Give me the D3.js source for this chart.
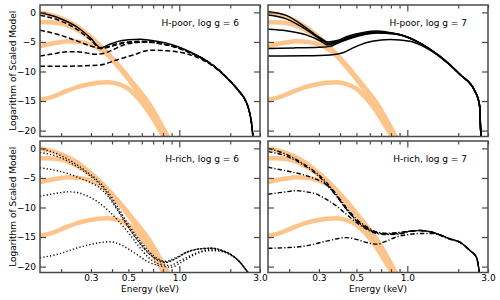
<!DOCTYPE html>
<html>
<head>
<meta charset="utf-8">
<script src="https://cdn.jsdelivr.net/npm/d3@7/dist/d3.min.js"></script>
<style>
  body { margin: 0; background: #fff; }
  text { font-family: 'DejaVu Sans', sans-serif; }
</style>
</head>
<body>
<div id="chart"></div>
<script>
// tick values
var energy_labels = [0.3, 0.5, 1.0, 3.0];
var energy_minor = [0.2, 0.3, 0.4, 0.5, 0.6, 0.7, 0.8, 0.9, 2.0, 3.0];
var energy_major = [1.0];
var log_ticks = [0, -5, -10, -15, -20];

var panel_titles = ['H-poor, log g = 6', 'H-poor, log g = 7', 'H-rich, log g = 6', 'H-rich, log g = 7'];

// orange reference models, [energy keV, log model] (same in every panel)
var ref_1 = [[0.15,0],[0.167,-0.3],[0.192,-0.8],[0.22,-1.5],[0.252,-2.5],[0.288,-3.8],[0.331,-5.3],[0.379,-7.0],[0.434,-8.85],[0.498,-10.9],[0.57,-13.0],[0.654,-15.2],[0.749,-18.0],[0.865,-21.3]];
var ref_2 = [[0.15,-1.65],[0.167,-1.65],[0.192,-1.8],[0.22,-2.25],[0.252,-3.05],[0.288,-4.1],[0.331,-5.45],[0.379,-7.15],[0.434,-9.0],[0.498,-11.1],[0.57,-13.3],[0.654,-15.7],[0.749,-18.5],[0.855,-21.3]];
var ref_3 = [[0.15,-5.75],[0.167,-5.4],[0.192,-5.1],[0.22,-4.9],[0.252,-4.95],[0.288,-5.3],[0.331,-6.0],[0.379,-7.25],[0.434,-9.1],[0.498,-11.2],[0.57,-13.5],[0.654,-15.9],[0.749,-18.7],[0.85,-21.3]];
var ref_4 = [[0.15,-14.8],[0.167,-14.5],[0.192,-13.9],[0.22,-13.2],[0.252,-12.6],[0.288,-12.2],[0.331,-11.9],[0.379,-11.8],[0.434,-12.1],[0.498,-12.9],[0.57,-14.5],[0.654,-16.7],[0.749,-19.4],[0.82,-21.3]];

// H-poor, log g = 6 (first one solid)
var hpoor6_tail = [[1.45,-8.2],[1.75,-10.0],[2.0,-11.65],[2.25,-13.3],[2.45,-14.8],[2.58,-16.5],[2.68,-19.0],[2.73,-21.3]];
var hpoor6_a = [[0.15,0],[0.192,-0.9],[0.252,-2.6],[0.3,-4.4],[0.343,-6.0],[0.38,-5.5],[0.43,-4.95],[0.5,-4.65],[0.586,-4.55],[0.67,-4.7],[0.844,-5.2],[1.0,-5.9],[1.16,-6.7]];
var hpoor6_b = [[0.15,-0.5],[0.192,-1.3],[0.252,-3.0],[0.3,-4.7],[0.343,-6.1],[0.38,-5.8],[0.43,-5.3],[0.5,-5.0],[0.6,-4.9],[0.7,-5.05],[0.85,-5.5],[1.0,-6.05],[1.16,-6.8]];
var hpoor6_c = [[0.15,-3.0],[0.192,-3.75],[0.252,-4.9],[0.3,-5.7],[0.343,-6.1],[0.38,-5.9],[0.43,-5.45],[0.5,-5.1],[0.6,-5.0],[0.7,-5.1],[0.85,-5.55],[1.0,-6.1],[1.16,-6.85]];
var hpoor6_d = [[0.15,-7.4],[0.18,-7.0],[0.21,-6.7],[0.24,-6.65],[0.28,-6.85],[0.32,-7.1],[0.36,-6.9],[0.4,-6.4],[0.46,-5.6],[0.55,-5.1],[0.65,-5.0],[0.8,-5.35],[1.0,-6.05],[1.16,-6.85]];
var hpoor6_e = [[0.15,-9.1],[0.216,-9.1],[0.3,-9.0],[0.34,-8.9],[0.427,-8.05],[0.535,-7.2],[0.672,-6.4],[0.844,-6.5],[1.107,-7.0],[1.3,-7.7],[1.45,-8.4],[1.75,-10.1]];

// H-poor, log g = 7
var hpoor7_tail = [[0.906,-3.78],[1.19,-5.2],[1.56,-7.45],[2.05,-10.5],[2.52,-13.4],[2.62,-14.6],[2.68,-16.0],[2.71,-19.5],[2.73,-21.3]];
var hpoor7_a = [[0.15,0.1],[0.192,-0.5],[0.252,-2.6],[0.305,-4.3],[0.34,-5.0],[0.38,-4.8],[0.45,-4.0],[0.55,-3.4],[0.66,-3.15],[0.75,-3.3]];
var hpoor7_b = [[0.15,-0.45],[0.192,-1.1],[0.252,-2.9],[0.305,-4.5],[0.34,-5.25],[0.38,-5.0],[0.45,-4.2],[0.55,-3.55],[0.66,-3.3],[0.75,-3.4]];
var hpoor7_c = [[0.15,-2.85],[0.192,-3.1],[0.252,-3.8],[0.305,-4.8],[0.34,-5.5],[0.38,-5.1],[0.45,-4.35],[0.55,-3.7],[0.66,-3.4],[0.75,-3.5]];
var hpoor7_d = [[0.15,-6.1],[0.22,-6.0],[0.3,-5.9],[0.35,-5.75],[0.38,-5.3],[0.45,-4.5],[0.55,-3.8],[0.66,-3.5],[0.75,-3.55]];
var hpoor7_e = [[0.15,-7.4],[0.25,-7.35],[0.35,-7.2],[0.42,-6.8],[0.47,-6.1],[0.525,-5.5],[0.62,-4.9],[0.79,-4.57],[1.04,-4.9],[1.19,-5.5],[1.4,-6.6],[1.7,-8.4]];

// H-rich, log g = 6
var hrich6_tail = [[1.1,-17.6],[1.32,-17.0],[1.55,-16.9],[1.8,-17.3],[2.0,-17.9],[2.29,-19.3],[2.5,-20.7],[2.6,-21.3]];
var hrich6_a = [[0.15,0],[0.192,-1.0],[0.252,-2.9],[0.288,-4.1],[0.331,-5.5],[0.379,-7.4],[0.434,-10.0],[0.498,-12.8],[0.57,-15.2],[0.654,-17.3],[0.75,-18.7],[0.83,-19.1],[0.95,-18.5]];
var hrich6_b = [[0.15,-0.7],[0.192,-1.4],[0.252,-3.2],[0.288,-4.35],[0.331,-5.8],[0.379,-7.8],[0.434,-10.4],[0.498,-13.2],[0.57,-15.6],[0.654,-17.6],[0.75,-18.9],[0.83,-19.25],[0.95,-18.65]];
var hrich6_c = [[0.15,-3.3],[0.192,-3.8],[0.252,-4.9],[0.288,-5.6],[0.331,-6.5],[0.379,-8.1],[0.434,-10.6],[0.498,-13.3],[0.57,-15.7],[0.654,-17.7],[0.75,-19.0],[0.83,-19.3],[0.95,-18.7]];
var hrich6_d = [[0.15,-8.1],[0.192,-7.55],[0.22,-7.35],[0.252,-7.5],[0.288,-8.1],[0.331,-9.1],[0.379,-10.5],[0.434,-12.2],[0.498,-14.2],[0.57,-16.4],[0.654,-18.4],[0.75,-19.5],[0.88,-19.8],[1.01,-19.0],[1.32,-17.5],[1.52,-17.1],[1.8,-17.4],[2.0,-17.95]];
var hrich6_e = [[0.15,-18.5],[0.192,-17.9],[0.252,-16.8],[0.331,-16.0],[0.39,-15.8],[0.434,-16.1],[0.498,-17.0],[0.57,-18.1],[0.654,-19.2],[0.75,-19.8],[0.9,-20.1],[1.01,-19.4],[1.32,-17.6],[1.52,-17.3],[1.8,-17.5],[2.0,-18.0]];

// H-rich, log g = 7
var hrich7_tail = [[1.04,-14.0],[1.19,-13.9],[1.36,-14.1],[1.79,-15.3],[2.05,-15.9],[2.35,-17.3],[2.56,-18.4],[2.65,-20.4],[2.68,-21.3]];
var hrich7_a = [[0.15,0],[0.192,-1.0],[0.252,-2.9],[0.288,-4.05],[0.331,-5.7],[0.379,-7.7],[0.434,-9.95],[0.498,-11.9],[0.57,-13.2],[0.654,-14.1],[0.75,-14.35],[0.906,-14.2]];
var hrich7_b = [[0.15,-0.55],[0.192,-1.3],[0.252,-3.1],[0.288,-4.3],[0.331,-6.0],[0.379,-8.0],[0.434,-10.2],[0.498,-12.1],[0.57,-13.4],[0.654,-14.2],[0.75,-14.45],[0.906,-14.3]];
var hrich7_c = [[0.15,-3.2],[0.192,-3.8],[0.252,-4.6],[0.288,-5.2],[0.331,-6.1],[0.379,-7.9],[0.434,-10.2],[0.498,-12.2],[0.57,-13.5],[0.654,-14.3],[0.75,-14.5],[0.906,-14.4]];
var hrich7_d = [[0.15,-7.75],[0.192,-7.35],[0.22,-7.15],[0.252,-7.35],[0.288,-7.7],[0.331,-8.6],[0.379,-9.7],[0.434,-11.1],[0.498,-12.5],[0.57,-13.6],[0.654,-14.4],[0.75,-14.6],[0.906,-14.5]];
var hrich7_e = [[0.15,-16.9],[0.192,-16.8],[0.252,-16.5],[0.331,-15.7],[0.434,-15.1],[0.5,-15.4],[0.57,-15.9],[0.66,-16.2],[0.75,-15.7],[0.86,-15.0],[1.0,-14.6],[1.19,-14.4],[1.4,-14.4],[1.79,-15.4]];

function PanelPlotter() {
  this._lefts = [40, 268];
  this._tops = [5, 141];
  this._width = 220;
  this._height = 131.5;
  this._font_size = '9px';
  this._frame_colour = '#4a4a4a';
  this._ref_colour = '#fdc48b';
}

PanelPlotter.prototype._with_tail = function(head, tail) {
  let last = head[head.length - 1][0];
  return head.concat(tail.filter(p => p[0] > last));
}

// models are drawn in order; the one at solid_idx (if any) has no dashes
PanelPlotter.prototype._plot_panel = function(svg, idx, models, dash, line_width, solid_idx) {
  let self = this;
  let col = idx % 2;
  let row = Math.floor(idx / 2);
  let x = d3.scaleLog().domain([0.15, 3]).range([0, this._width]);
  let y = d3.scaleLinear().domain([-21, 1.25]).range([this._height, 0]);

  let g = svg.append('svg:g')
    .attr('transform', 'translate(' + this._lefts[col] + ',' + this._tops[row] + ')');

  svg.append('svg:defs').append('svg:clipPath')
    .attr('id', 'clip' + idx)
    .append('svg:rect')
    .attr('width', this._width)
    .attr('height', this._height);

  let line = d3.line()
    .x(d => x(d[0]))
    .y(d => y(d[1]))
    .curve(d3.curveMonotoneX);

  let plot = g.append('svg:g').attr('clip-path', 'url(#clip' + idx + ')');

  plot.selectAll('path.ref')
    .data([ref_1, ref_2, ref_3, ref_4])
    .join('svg:path')
    .attr('class', 'ref')
    .attr('d', line)
    .attr('fill', 'none')
    .attr('stroke', this._ref_colour)
    .attr('stroke-width', 4.5);

  plot.selectAll('path.model')
    .data(models)
    .join('svg:path')
    .attr('class', 'model')
    .attr('d', line)
    .attr('fill', 'none')
    .attr('stroke', '#000')
    .attr('stroke-width', line_width)
    .attr('stroke-dasharray', function(d, i) { return i === solid_idx ? null : dash; });

  // ticks point inwards on all four sides
  let minus = d => d < 0 ? '\u2212' + Math.abs(d) : String(d);
  let axes = [
    d3.axisBottom(x).tickValues(energy_minor).tickSize(-3.5).tickFormat(''),
    d3.axisBottom(x).tickValues(energy_major).tickSize(-6.5).tickFormat(''),
    d3.axisTop(x).tickValues(energy_minor).tickSize(-3.5).tickFormat(''),
    d3.axisTop(x).tickValues(energy_major).tickSize(-6.5).tickFormat(''),
    d3.axisLeft(y).tickValues(log_ticks).tickSize(-6).tickPadding(4).tickFormat(col === 0 ? minus : ''),
    d3.axisRight(y).tickValues(log_ticks).tickSize(-6).tickFormat('')
  ];
  let shifts = ['0,' + this._height, '0,' + this._height, '0,0', '0,0', '0,0', this._width + ',0'];
  axes.forEach(function(ax, i) {
    let a = g.append('svg:g')
      .attr('transform', 'translate(' + shifts[i] + ')')
      .call(ax);
    a.select('.domain').remove();
    a.selectAll('line').attr('stroke', self._frame_colour).attr('stroke-width', 1.2);
    a.selectAll('text').attr('font-size', self._font_size).attr('fill', '#000')
      .attr('font-family', "'DejaVu Sans', sans-serif");
  });

  if(row === 1) {
    let lab = g.append('svg:g')
      .attr('transform', 'translate(0,' + this._height + ')')
      .call(d3.axisBottom(x).tickValues(energy_labels).tickSize(0).tickPadding(2.5).tickFormat(d3.format('.1f')));
    lab.select('.domain').remove();
    lab.selectAll('text').attr('font-size', this._font_size).attr('fill', '#000')
      .attr('font-family', "'DejaVu Sans', sans-serif");

    g.append('svg:text')
      .attr('x', this._width / 2)
      .attr('y', this._height + 19)
      .attr('text-anchor', 'middle')
      .attr('font-size', this._font_size)
      .text('Energy (keV)');
  }

  if(col === 0) {
    g.append('svg:text')
      .attr('transform', 'translate(' + (15.5 - this._lefts[col]) + ',' + (this._height / 2) + ') rotate(-90)')
      .attr('text-anchor', 'middle')
      .attr('font-size', this._font_size)
      .text('Logarithm of Scaled Model');
  }

  g.append('svg:text')
    .attr('x', this._width - 21)
    .attr('y', 21)
    .attr('text-anchor', 'end')
    .attr('font-size', this._font_size)
    .text(panel_titles[idx]);

  g.append('svg:rect')
    .attr('width', this._width)
    .attr('height', this._height)
    .attr('fill', 'none')
    .attr('stroke', this._frame_colour)
    .attr('stroke-width', 1.5);
}

PanelPlotter.prototype.plot = function(container) {
  let t = this;
  let svg = d3.select(container).append('svg:svg')
    .attr('width', 500)
    .attr('height', 300);

  let hpoor6 = [hpoor6_e, hpoor6_d, hpoor6_c, hpoor6_b, hpoor6_a].map(m => t._with_tail(m, hpoor6_tail));
  let hpoor7 = [hpoor7_a, hpoor7_b, hpoor7_c, hpoor7_d, hpoor7_e].map(m => t._with_tail(m, hpoor7_tail));
  let hrich6 = [hrich6_a, hrich6_b, hrich6_c, hrich6_d, hrich6_e].map(m => t._with_tail(m, hrich6_tail));
  let hrich7 = [hrich7_a, hrich7_b, hrich7_c, hrich7_d, hrich7_e].map(m => t._with_tail(m, hrich7_tail));

  // solid H-poor g6 model drawn last so it sits on top of the dashed ones
  this._plot_panel(svg, 0, hpoor6, '5,2.5', 1.5, 4);
  this._plot_panel(svg, 1, hpoor7, null, 1.5, -1);
  this._plot_panel(svg, 2, hrich6, '1.2,2.2', 1.4, -1);
  this._plot_panel(svg, 3, hrich7, '4.5,2,1.2,2', 1.4, -1);
}

new PanelPlotter().plot('#chart');
</script>
</body>
</html>
